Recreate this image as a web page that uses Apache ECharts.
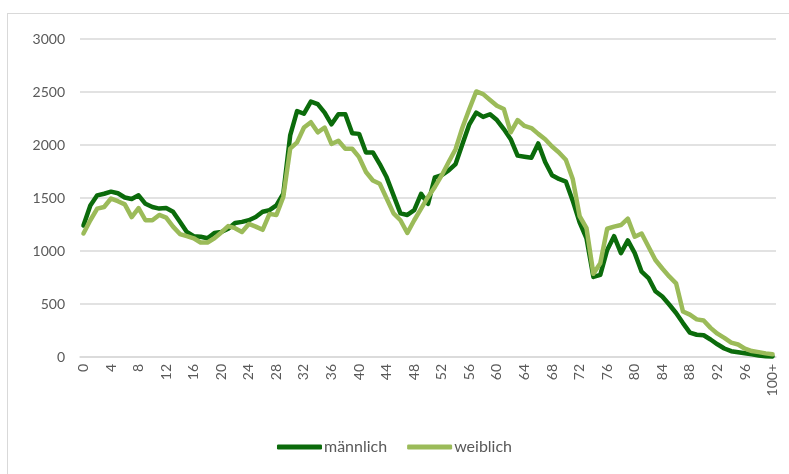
<!DOCTYPE html>
<html>
<head>
<meta charset="utf-8">
<script src="https://cdn.jsdelivr.net/npm/echarts@6/dist/echarts.min.js"></script>
<style>
  html, body { margin: 0; padding: 0; background: #fff; }
  #frame { position: absolute; left: 7px; top: 13px; width: 800px; height: 480px; border: 1px solid #d9d9d9; }
  #chart { position: absolute; left: 0; top: 0; width: 789px; height: 474px; }
</style>
</head>
<body>
<div id="frame"></div>
<div id="chart"></div>
<script>
// Alter 0 .. 100+
const ages = [];
for (let a = 0; a < 100; a++) ages.push(String(a));
ages.push('100+');

const maennlich = [
  1240, 1430, 1525, 1540, 1560, 1545, 1505, 1490, 1525, 1445,
  1415, 1400, 1405, 1370, 1275, 1180, 1140, 1135, 1120, 1170,
  1180, 1210, 1265, 1275, 1290, 1320, 1370, 1385, 1430, 1540,
  2090, 2320, 2295, 2410, 2385, 2305, 2195, 2290, 2290, 2110,
  2105, 1930, 1930, 1820, 1695, 1525, 1355, 1340, 1385, 1540,
  1445, 1695, 1715, 1760, 1820, 2010, 2195, 2305, 2265, 2290,
  2235, 2150, 2055, 1900, 1890, 1880, 2015, 1840, 1715, 1680,
  1655, 1475, 1270, 1120, 755, 775, 1010, 1140, 980, 1100,
  980, 805, 745, 620, 570, 495, 415, 320, 230, 210,
  205, 165, 120, 80, 55, 45, 35, 25, 15, 8,
  5
];

const weiblich = [
  1165, 1290, 1400, 1415, 1495, 1470, 1440, 1320, 1405, 1290,
  1290, 1340, 1315, 1230, 1160, 1140, 1120, 1080, 1080, 1120,
  1175, 1235, 1215, 1180, 1255, 1230, 1200, 1350, 1340, 1510,
  1965, 2025, 2165, 2215, 2120, 2165, 2010, 2040, 1965, 1965,
  1885, 1745, 1665, 1635, 1495, 1355, 1290, 1170, 1290, 1400,
  1510, 1605, 1715, 1840, 1960, 2165, 2340, 2505, 2480, 2425,
  2370, 2340, 2120, 2235, 2180, 2160, 2105, 2055, 1985, 1930,
  1860, 1680, 1330, 1215, 785, 885, 1210, 1230, 1245, 1305,
  1135, 1165, 1040, 915, 835, 760, 695, 430, 400, 355,
  345, 275, 220, 180, 135, 118, 78, 56, 46, 34,
  25
];

const chart = echarts.init(document.getElementById('chart'));
const font = 'Lato, "Noto Sans", sans-serif';

chart.setOption({
  animation: false,
  textStyle: { fontFamily: font },
  grid: { left: 80, right: 13, top: 39, bottom: 117 },
  legend: {
    bottom: 14,
    left: 'center',
    itemGap: 20,
    itemWidth: 45,
    itemHeight: 5,
    icon: 'roundRect',
    textStyle: { color: '#595959', fontSize: 16, fontFamily: font, padding: [0, 0, 0, -3] },
    data: ['männlich', 'weiblich']
  },
  xAxis: {
    type: 'category',
    data: ages,
    boundaryGap: true,
    axisLine: { lineStyle: { color: '#d9d9d9', width: 1.5 } },
    axisTick: { show: false },
    axisLabel: {
      interval: 3,
      rotate: 90,
      color: '#595959',
      fontSize: 14,
      margin: 7,
      fontFamily: font
    }
  },
  yAxis: {
    type: 'value',
    min: 0,
    max: 3000,
    interval: 500,
    axisLine: { show: false },
    axisTick: { show: false },
    splitLine: { lineStyle: { color: '#d9d9d9', width: 1.5 } },
    axisLabel: {
      color: '#595959',
      fontSize: 14,
      margin: 15,
      fontFamily: font,
      formatter: (v) => String(v)
    }
  },
  series: [
    {
      name: 'männlich',
      type: 'line',
      data: maennlich,
      showSymbol: false,
      itemStyle: { color: '#0b6b0b' },
      lineStyle: { color: '#0b6b0b', width: 4.5, join: 'round', cap: 'round' }
    },
    {
      name: 'weiblich',
      type: 'line',
      data: weiblich,
      showSymbol: false,
      itemStyle: { color: '#9bbb59' },
      lineStyle: { color: '#9bbb59', width: 4.5, join: 'round', cap: 'round' }
    }
  ]
});
</script>
</body>
</html>
